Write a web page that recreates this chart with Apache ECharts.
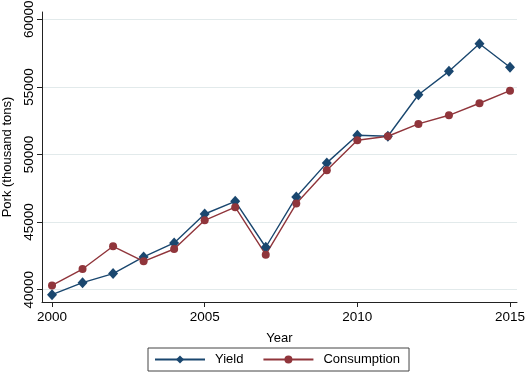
<!DOCTYPE html>
<html>
<head>
<meta charset="utf-8">
<script src="https://cdn.jsdelivr.net/npm/echarts@6/dist/echarts.min.js"></script>
<style>
  html, body { margin: 0; padding: 0; background: #fff; }
  #chart { width: 526px; height: 375px; }
</style>
</head>
<body>
<div id="chart"></div>
<script>
// values (thousand tons)
var years = [2000, 2001, 2002, 2003, 2004, 2005, 2006, 2007, 2008, 2009, 2010, 2011, 2012, 2013, 2014, 2015]
var yieldValues = [39630, 40520, 41190, 42420, 43460, 45600, 46540, 43140, 46860, 49380, 51420, 51350, 54420, 56150, 58190, 56450]
var consumptionValues = [40320, 41530, 43210, 42100, 43010, 45130, 46100, 42590, 46370, 48830, 51050, 51350, 52260, 52900, 53790, 54720]
var xTicks = [2000, 2005, 2010, 2015]
var yTicks = [40000, 45000, 50000, 55000, 60000]

var font = '"Liberation Sans", Arial, sans-serif'
var navy = '#1a476f'
var maroon = '#90353b'

function pairs (vals) {
  return years.map(function (y, i) { return [y, vals[i]] })
}

var chart = echarts.init(document.getElementById('chart'))

chart.setOption({
  animation: false,
  backgroundColor: '#fff',
  textStyle: { fontFamily: font, color: '#000' },
  grid: {
    left: 42,
    right: 9,
    top: 12,
    bottom: 73,
    containLabel: false,
    outerBoundsMode: 'none'
  },
  legend: {
    left: 148,
    top: 348,
    itemWidth: 50,
    itemHeight: 10,
    itemGap: 19,
    padding: [5, 9, 5, 6],
    borderColor: '#444',
    borderWidth: 1,
    textStyle: { fontFamily: font, fontSize: 13, color: '#000', padding: [0, 0, 0, 5] },
    data: ['Yield', 'Consumption']
  },
  xAxis: {
    type: 'value',
    min: 1999.672,
    max: 2015.229,
    name: 'Year',
    nameLocation: 'middle',
    nameGap: 30,
    nameTextStyle: { fontFamily: font, fontSize: 13, color: '#000' },
    axisLine: { show: true, lineStyle: { color: '#222', width: 1 } },
    axisTick: { show: true, length: 5, customValues: xTicks, lineStyle: { color: '#222' } },
    axisLabel: {
      customValues: xTicks,
      fontSize: 13.5,
      color: '#000',
      margin: 8,
      formatter: function (v) { return String(v) }
    },
    splitLine: { show: false }
  },
  yAxis: {
    type: 'value',
    min: 39091,
    max: 60539,
    name: 'Pork (thousand tons)',
    nameLocation: 'middle',
    nameGap: 25,
    nameRotate: 90,
    nameTextStyle: { fontFamily: font, fontSize: 13, color: '#000' },
    axisLine: { show: true, lineStyle: { color: '#222', width: 1 } },
    axisTick: { show: true, length: 5, customValues: yTicks, lineStyle: { color: '#222' } },
    axisLabel: {
      customValues: yTicks,
      rotate: 90,
      fontSize: 13.5,
      color: '#000',
      margin: 6,
      formatter: function (v) { return String(v) }
    },
    splitLine: { show: true, lineStyle: { color: '#e2eaeb', width: 1 } }
  },
  series: [
    {
      name: 'Yield',
      type: 'line',
      data: pairs(yieldValues),
      symbol: 'diamond',
      symbolSize: [10, 11],
      itemStyle: { color: navy },
      lineStyle: { color: navy, width: 1.4 }
    },
    {
      name: 'Consumption',
      type: 'line',
      data: pairs(consumptionValues),
      symbol: 'circle',
      symbolSize: 8,
      itemStyle: { color: maroon },
      lineStyle: { color: maroon, width: 1.4 }
    }
  ]
})
</script>
</body>
</html>
